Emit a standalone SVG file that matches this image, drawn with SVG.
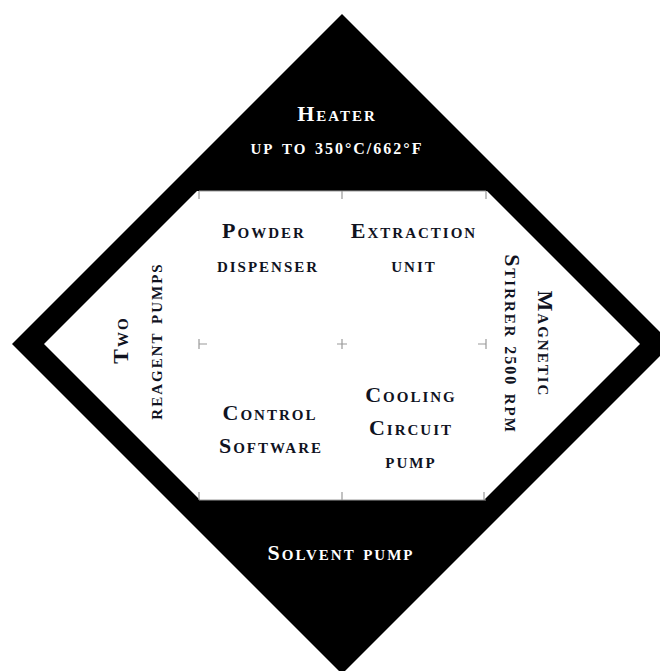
<svg xmlns="http://www.w3.org/2000/svg" width="660" height="671" viewBox="0 0 660 671">
<style>
.t{font-family:"Liberation Serif","DejaVu Serif",serif;font-size:22px;font-weight:bold;font-variant:small-caps;letter-spacing:2px;text-anchor:middle}
.n{font-size:16px}
.d{fill:#10131f}
.w{fill:#ffffff}
.g{stroke:#9a9a9a;stroke-width:1.2;fill:none}
</style>
<rect width="660" height="671" fill="#ffffff"/>
<g id="frame">
<polygon points="342,14 672,344 342,674 12,344" fill="#000000"/>
<polygon points="197,191 487,191 640,344 484,500 200,500 44,344" fill="#ffffff"/>
</g>
<g id="grid" class="g">
<path d="M199,191 H486 M199,500 H486"/>
<path d="M199,191 V199 M342,191 V199 M486,191 V199"/>
<path d="M199,500 V492 M342,500 V492 M484,500 V492"/>
<path d="M199,339 V349 M199,344 H207"/>
<path d="M337,344 H347 M342,339 V349"/>
<path d="M486,339 V349 M486,344 H478"/>
</g>
<g id="heater">
<text class="t w" x="337" y="121">Heater</text>
<text class="t w" x="337" y="154">up to <tspan class="n">350°C/662°F</tspan></text>
</g>
<g id="powder-dispenser">
<text class="t d" x="264" y="238">Powder</text>
<text class="t d" x="268" y="272">dispenser</text>
</g>
<g id="extraction-unit">
<text class="t d" x="414" y="238">Extraction</text>
<text class="t d" x="414" y="272">unit</text>
</g>
<g id="control-software">
<text class="t d" x="270" y="420">Control</text>
<text class="t d" x="271" y="453">Software</text>
</g>
<g id="cooling-circuit-pump">
<text class="t d" x="411" y="402">Cooling</text>
<text class="t d" x="411" y="435">Circuit</text>
<text class="t d" x="411" y="468">pump</text>
</g>
<g id="reagent-pumps">
<text class="t d" transform="translate(128,340) rotate(-90)">Two</text>
<text class="t d" transform="translate(162,341) rotate(-90)">reagent pumps</text>
</g>
<g id="magnetic-stirrer">
<text class="t d" transform="translate(538,344) rotate(90)">Magnetic</text>
<text class="t d" transform="translate(505,344) rotate(90)">Stirrer <tspan class="n">2500</tspan> rpm</text>
</g>
<g id="solvent-pump">
<text class="t w" x="341" y="560">Solvent pump</text>
</g>
</svg>
